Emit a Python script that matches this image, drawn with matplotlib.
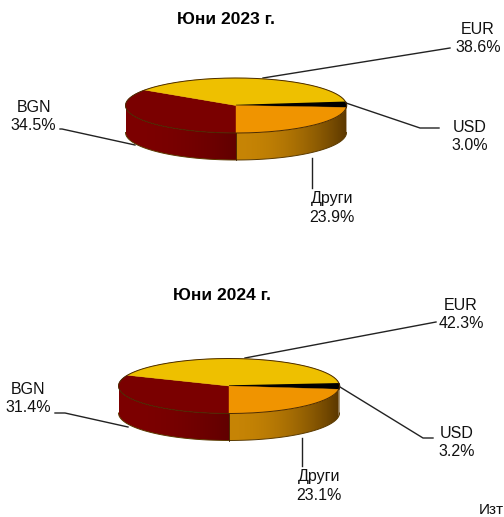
import numpy as np
import matplotlib
matplotlib.use("Agg")
import matplotlib.pyplot as plt
from matplotlib.patches import Polygon

plt.rcParams['font.family'] = ['Liberation Sans', 'DejaVu Sans']

# стойности, подредени по часовниковата стрелка от долу
categories = ["BGN", "EUR", "USD", "Други"]
values_2023 = [34.5, 38.6, 3.0, 23.9]
values_2024 = [31.4, 42.3, 3.2, 23.1]
title_2023 = "Юни 2023 г."
title_2024 = "Юни 2024 г."

top_colors = ["#7a0000", "#eec000", "#000000", "#f09400"]
side_light = [(0.49, 0, 0), (0.40, 0.26, 0), (0.36, 0.22, 0), (0.78, 0.52, 0.02)]
side_dark = [(0.38, 0, 0), (0.40, 0.26, 0), (0.36, 0.22, 0), (0.36, 0.22, 0)]

W, H = 504, 517
fig = plt.figure(figsize=(W / 100, H / 100), dpi=100)
ax = fig.add_axes([0, 0, 1, 1])
ax.set_xlim(0, W)
ax.set_ylim(H, 0)
ax.axis('off')


def side_wall(cx, cy, rx, ry, depth, a0, a1, light, dark):
    # a0 > a1, ъгли в градуси; рисува се само предната половина
    th = np.radians(np.linspace(a0, a1, 80))
    keep = np.sin(th) <= 0
    if keep.sum() < 2:
        return
    th = th[keep]
    x = cx + rx * np.cos(th)
    y = cy - ry * np.sin(th)
    poly = Polygon(np.column_stack([np.r_[x, x[::-1]], np.r_[y, y[::-1] + depth]]),
                   closed=True, fc='none', ec='none', transform=ax.transData)
    ax.add_patch(poly)
    t = np.linspace(0, 1, 128)[None, :, None] ** 2
    grad = np.array(light)[None, None, :] * (1 - t) + np.array(dark)[None, None, :] * t
    im = ax.imshow(grad, extent=[x.min(), x.max(), y.max() + depth, y.min()],
                   aspect='auto', zorder=2, interpolation='bilinear')
    im.set_clip_path(poly)


def pie3d(cx, cy, rx, ry, depth, values):
    start = 270.0
    for i, v in enumerate(values):
        end = start - v * 3.6
        th = np.radians(np.linspace(start, end, 80))
        x = cx + rx * np.cos(th)
        y = cy - ry * np.sin(th)
        if i == 0:
            side_wall(cx, cy, rx, ry, depth, start, 180.0, side_light[i], side_dark[i])
        else:
            side_wall(cx, cy, rx, ry, depth, start, end, side_light[i], side_dark[i])
        edge = 1.0 if top_colors[i] == "#000000" else 0.3
        ax.add_patch(Polygon(np.column_stack([np.r_[cx, x], np.r_[cy, y]]), closed=True,
                             fc=top_colors[i], ec=top_colors[i], lw=edge, zorder=3))
        start = end
    a = np.radians(np.linspace(0, 360, 200))
    ax.plot(cx + rx * np.cos(a), cy - ry * np.sin(a), color="#4a2a00", lw=0.7, zorder=4)
    b = np.radians(np.linspace(180, 360, 100))
    ax.plot(cx + rx * np.cos(b), cy - ry * np.sin(b) + depth, color="#5a3a00", lw=0.7, zorder=4)
    ax.plot([cx, cx], [cy + ry, cy + ry + depth], color="#3a1a00", lw=0.6, zorder=4)
    ax.set_xlim(0, W)
    ax.set_ylim(H, 0)


def label(x, y1, y2, name, value):
    ax.text(x, y1, name, ha='center', va='center', fontsize=11.5, color="#111111")
    ax.text(x, y2, f"{value}%", ha='center', va='center', fontsize=11.5, color="#111111")


def leader(xs, ys):
    ax.plot(xs, ys, color="#222222", lw=1.0, zorder=1)


# 2023
ax.text(226, 19, title_2023, ha='center', va='center', fontsize=12.5, fontweight='bold')
leader([263, 450], [78, 48])
leader([346, 420, 439], [103, 128, 128])
leader([312, 312], [158, 188])
leader([135, 62, 60], [145, 129, 129])
pie3d(236, 105.5, 110.5, 27.5, 27, values_2023)
label(478, 29, 47, categories[1], values_2023[1])
label(33.5, 107, 125, categories[0], values_2023[0])
label(470, 128, 146, categories[2], values_2023[2])
label(332, 198, 217, categories[3], values_2023[3])

# 2024
ax.text(222, 296, title_2024, ha='center', va='center', fontsize=12.5, fontweight='bold')
leader([245, 436], [358, 322])
leader([340, 423, 433], [387, 438, 438])
leader([302, 302], [438, 466])
leader([128, 65, 55], [427, 413, 413])
pie3d(229, 386, 110.5, 27.5, 27, values_2024)
label(461, 305, 323, categories[1], values_2024[1])
label(28.5, 390, 408, categories[0], values_2024[0])
label(457, 433, 451, categories[2], values_2024[2])
label(319, 477, 495, categories[3], values_2024[3])

ax.text(479, 510, "Изт", ha='left', va='center', fontsize=11, color="#111111")

fig.savefig("out.png", dpi=100)
